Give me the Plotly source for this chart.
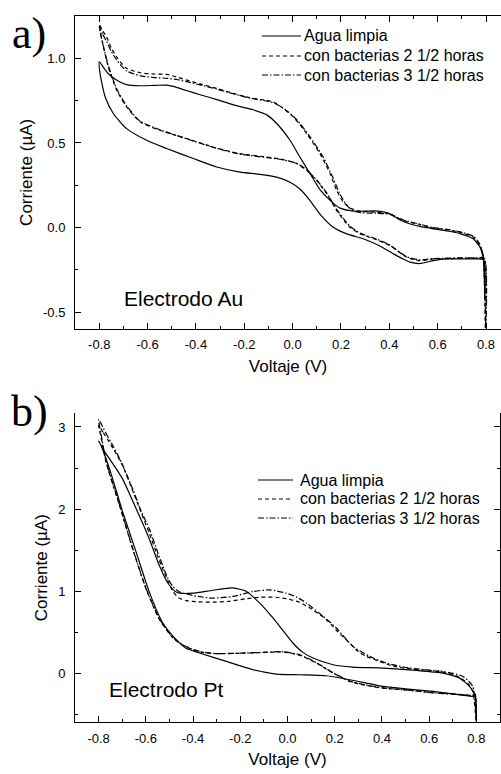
import plotly.graph_objects as go

# ---------------- data ----------------
series_names = ["Agua limpia", "con bacterias 2 1/2 horas", "con bacterias 3 1/2 horas"]

# Panel a) Electrodo Au
V_au_agua = [-0.800, -0.775, -0.756, -0.72, -0.687, -0.632, -0.57, -0.521, -0.494, -0.44, -0.383, -0.31, -0.245, -0.163,
             -0.107, -0.066, -0.011, 0.030, 0.072, 0.113, 0.155, 0.196, 0.251, 0.30, 0.334, 0.37, 0.403, 0.444, 0.49,
             0.527, 0.582, 0.64, 0.692, 0.747, 0.775, 0.789, 0.795, 0.790,
             0.75, 0.72, 0.637, 0.582, 0.527, 0.485, 0.45, 0.417, 0.361, 0.30, 0.279, 0.224, 0.168, 0.113, 0.072,
             0.030, -0.011, -0.066, -0.135, -0.218, -0.314, -0.411, -0.521, -0.604, -0.687, -0.742, -0.776, -0.797, -0.800]
I_au_agua = [0.98, 0.93, 0.90, 0.865, 0.845, 0.838, 0.840, 0.842, 0.834, 0.81, 0.785, 0.755, 0.725, 0.696,
             0.666, 0.615, 0.516, 0.417, 0.319, 0.225, 0.161, 0.115, 0.098, 0.097, 0.099, 0.094, 0.081, 0.045, 0.02,
             0.007, -0.007, -0.02, -0.035, -0.066, -0.116, -0.185, -0.42, -0.19,
             -0.185, -0.185, -0.185, -0.195, -0.212, -0.204, -0.18, -0.155, -0.108, -0.07, -0.06, -0.037, 0.002, 0.08, 0.16,
             0.228, 0.268, 0.298, 0.315, 0.328, 0.358, 0.408, 0.467, 0.516, 0.585, 0.674, 0.773, 0.911, 0.98]

V_au_b25 = [-0.800, -0.785, -0.770, -0.750, -0.728, -0.705, -0.687, -0.632, -0.58, -0.521, -0.48, -0.438, -0.38, -0.314,
            -0.25, -0.177, -0.110, -0.080, -0.039, 0.003, 0.058, 0.113, 0.155, 0.182, 0.210, 0.240, 0.265, 0.30, 0.348,
            0.403, 0.458, 0.527, 0.582, 0.64, 0.692, 0.747, 0.775, 0.789, 0.797, 0.792,
            0.75, 0.72, 0.65, 0.582, 0.527, 0.472, 0.403, 0.348, 0.279, 0.237, 0.182, 0.141, 0.099, 0.058, 0.017,
            -0.039, -0.107, -0.218, -0.314, -0.438, -0.549, -0.632, -0.687, -0.728, -0.763, -0.783, -0.797, -0.800]
I_au_b25 = [1.20, 1.16, 1.128, 1.06, 1.009, 0.965, 0.941, 0.915, 0.908, 0.905, 0.89, 0.871, 0.848, 0.822,
            0.795, 0.767, 0.752, 0.743, 0.704, 0.654, 0.556, 0.437, 0.319, 0.22, 0.15, 0.115, 0.101, 0.095, 0.091,
            0.081, 0.042, 0.018, -0.003, -0.013, -0.027, -0.056, -0.106, -0.175, -0.60, -0.185,
            -0.18, -0.18, -0.183, -0.185, -0.195, -0.175, -0.106, -0.072, -0.037, 0.002, 0.101, 0.2, 0.279, 0.338, 0.378,
            0.402, 0.417, 0.437, 0.47, 0.526, 0.575, 0.625, 0.713, 0.812, 0.95, 1.069, 1.168, 1.20]

V_au_b35 = [-0.800, -0.785, -0.770, -0.750, -0.728, -0.705, -0.687, -0.632, -0.58, -0.521, -0.48, -0.438, -0.38, -0.314,
            -0.25, -0.177, -0.110, -0.075, -0.030, 0.015, 0.070, 0.125, 0.165, 0.195, 0.225, 0.25, 0.285, 0.348,
            0.403, 0.458, 0.527, 0.582, 0.64, 0.692, 0.747, 0.775, 0.789, 0.799, 0.793,
            0.75, 0.72, 0.65, 0.582, 0.527, 0.472, 0.403, 0.348, 0.279, 0.237, 0.182, 0.141, 0.099, 0.058, 0.017,
            -0.039, -0.107, -0.218, -0.314, -0.438, -0.549, -0.632, -0.687, -0.728, -0.763, -0.783, -0.797, -0.800]
I_au_b35 = [1.19, 1.14, 1.10, 1.04, 0.99, 0.95, 0.925, 0.897, 0.888, 0.882, 0.875, 0.862, 0.842, 0.818,
            0.792, 0.765, 0.748, 0.735, 0.697, 0.64, 0.54, 0.42, 0.30, 0.2, 0.13, 0.10, 0.088, 0.085,
            0.078, 0.045, 0.02, 0.0, -0.01, -0.025, -0.05, -0.10, -0.17, -0.60, -0.18,
            -0.18, -0.178, -0.18, -0.183, -0.19, -0.172, -0.104, -0.068, -0.032, 0.008, 0.108, 0.205, 0.282, 0.34, 0.38,
            0.40, 0.414, 0.434, 0.468, 0.524, 0.578, 0.63, 0.72, 0.82, 0.96, 1.07, 1.16, 1.19]

# Panel b) Electrodo Pt
V_pt_agua = [-0.800, -0.775, -0.753, -0.725, -0.697, -0.668, -0.640, -0.612, -0.584, -0.542, -0.506, -0.475, -0.457,
             -0.40, -0.316, -0.231, -0.175, -0.140, -0.104, -0.068, -0.033, 0.023, 0.065, 0.108, 0.193, 0.277, 0.404,
             0.545, 0.658, 0.729, 0.771, 0.793, 0.800, 0.795,
             0.785, 0.70, 0.616, 0.50, 0.404, 0.33, 0.263, 0.164, 0.051, -0.047, -0.146, -0.259, -0.372, -0.43,
             -0.471, -0.528, -0.584, -0.640, -0.697, -0.753, -0.789, -0.800]
I_pt_agua = [2.83, 2.70, 2.61, 2.49, 2.36, 2.18, 2.0, 1.82, 1.63, 1.31, 1.10, 1.0, 0.98,
             0.98, 1.015, 1.043, 1.003, 0.92, 0.82, 0.70, 0.577, 0.374, 0.26, 0.191, 0.110, 0.081, 0.069,
             0.041, 0.008, -0.053, -0.154, -0.256, -0.58, -0.27,
             -0.276, -0.245, -0.215, -0.183, -0.154, -0.11, -0.073, -0.024, -0.012, -0.004, 0.049, 0.150, 0.252, 0.31,
             0.414, 0.617, 0.983, 1.47, 1.957, 2.485, 2.77, 2.83]

V_pt_b25 = [-0.800, -0.780, -0.760, -0.739, -0.70, -0.655, -0.62, -0.584, -0.55, -0.528, -0.505, -0.485, -0.46,
            -0.429, -0.38, -0.316, -0.25, -0.18, -0.12, -0.05, 0.0, 0.05, 0.10, 0.164, 0.21, 0.249, 0.30, 0.334,
            0.39, 0.45, 0.52, 0.60, 0.658, 0.72, 0.765, 0.785, 0.80, 0.795,
            0.785, 0.70, 0.616, 0.50, 0.404, 0.33, 0.263, 0.225, 0.193, 0.122, 0.051, -0.019, -0.089, -0.189, -0.302,
            -0.36, -0.40, -0.445, -0.485, -0.542, -0.598, -0.655, -0.711, -0.768, -0.790, -0.800]
I_pt_b25 = [3.02, 2.93, 2.84, 2.74, 2.54, 2.22, 1.96, 1.70, 1.43, 1.27, 1.12, 1.0, 0.92,
            0.89, 0.875, 0.87, 0.88, 0.91, 0.93, 0.93, 0.91, 0.87, 0.79, 0.66, 0.52, 0.414, 0.27, 0.211,
            0.15, 0.09, 0.06, 0.04, 0.02, -0.03, -0.12, -0.22, -0.60, -0.25,
            -0.26, -0.245, -0.23, -0.195, -0.175, -0.14, -0.093, -0.04, 0.008, 0.13, 0.225, 0.265, 0.26, 0.25, 0.244,
            0.26, 0.29, 0.35, 0.434, 0.658, 1.023, 1.51, 2.04, 2.566, 2.88, 3.02]

V_pt_b35 = [-0.800, -0.770, -0.739, -0.70, -0.655, -0.62, -0.584, -0.55, -0.528, -0.505, -0.485, -0.46, -0.429,
            -0.38, -0.316, -0.231, -0.146, -0.076, -0.005, 0.04, 0.080, 0.150, 0.207, 0.277, 0.348, 0.418, 0.517,
            0.60, 0.658, 0.743, 0.785, 0.80, 0.795,
            0.785, 0.70, 0.616, 0.50, 0.404, 0.33, 0.263, 0.225, 0.193, 0.122, 0.051, -0.019, -0.089, -0.189, -0.302,
            -0.36, -0.40, -0.445, -0.485, -0.542, -0.598, -0.655, -0.711, -0.768, -0.790, -0.800]
I_pt_b35 = [3.09, 2.93, 2.77, 2.55, 2.24, 1.98, 1.75, 1.48, 1.31, 1.15, 1.06, 1.0, 0.97,
            0.94, 0.92, 0.94, 1.0, 1.02, 0.98, 0.93, 0.86, 0.70, 0.556, 0.333, 0.211, 0.13, 0.069,
            0.045, 0.028, -0.032, -0.154, -0.60, -0.25,
            -0.262, -0.248, -0.232, -0.197, -0.172, -0.135, -0.088, -0.035, 0.012, 0.135, 0.232, 0.27, 0.262, 0.252, 0.246,
            0.265, 0.295, 0.355, 0.44, 0.665, 1.03, 1.52, 2.05, 2.58, 2.92, 3.09]

x_tickvals = [-0.8, -0.6, -0.4, -0.2, 0.0, 0.2, 0.4, 0.6, 0.8]
x_ticktext = ["-0.8", "-0.6", "-0.4", "-0.2", "0.0", "0.2", "0.4", "0.6", "0.8"]
ya_tickvals = [-0.5, 0.0, 0.5, 1.0]
ya_ticktext = ["-0.5", "0.0", "0.5", "1.0"]
yb_tickvals = [0, 1, 2, 3]
yb_ticktext = ["0", "1", "2", "3"]

# ---------------- styles / layout ----------------
dashes = ["solid", "4px,3px", "6px,2px,1.5px,2px"]
LW = 1.2
SANS = "Liberation Sans, Arial, sans-serif"
SERIF = "Liberation Serif, Times New Roman, serif"

W, H = 501, 774
ML, MR, MT, MB = 75, 0, 16, 51
PW, PH = W - ML - MR, H - MT - MB


def px_x(p):
    return (p - ML) / PW


def px_y(p):
    return (H - MB - p) / PH


def clamp(v):
    return min(1.0, max(0.0, v))


fig = go.Figure()
panel_a = [(V_au_agua, I_au_agua), (V_au_b25, I_au_b25), (V_au_b35, I_au_b35)]
panel_b = [(V_pt_agua, I_pt_agua), (V_pt_b25, I_pt_b25), (V_pt_b35, I_pt_b35)]
for k, (v, i) in enumerate(panel_a):
    fig.add_trace(go.Scatter(x=v, y=i, mode="lines", name=series_names[k], xaxis="x", yaxis="y",
                             showlegend=False,
                             line=dict(color="black", width=LW, dash=dashes[k], shape="spline", smoothing=0.6)))
for k, (v, i) in enumerate(panel_b):
    fig.add_trace(go.Scatter(x=v, y=i, mode="lines", name=series_names[k], xaxis="x2", yaxis="y2",
                             showlegend=False,
                             line=dict(color="black", width=LW, dash=dashes[k], shape="spline", smoothing=0.6)))

common_x = dict(tickmode="array", tickvals=x_tickvals, ticktext=x_ticktext, ticks="inside", ticklen=6,
                tickwidth=1, tickcolor="black", showline=True, linecolor="black", linewidth=1,
                showgrid=False, zeroline=False, automargin=False, ticklabelstandoff=4,
                tickfont=dict(family=SANS, size=13, color="black"),
                minor=dict(dtick=0.1, ticks="inside", ticklen=3, tickcolor="black", showgrid=False),
                title=dict(text="Voltaje (V)", font=dict(family=SANS, size=17, color="black"), standoff=8))
common_y = dict(tickmode="array", ticks="inside", ticklen=6, tickwidth=1, tickcolor="black",
                showline=True, linecolor="black", linewidth=1, showgrid=False, zeroline=False,
                automargin=False, tickfont=dict(family=SANS, size=13, color="black"), ticklabelstandoff=6,
                title=dict(text="Corriente (\u00b5A)", font=dict(family=SANS, size=17, color="black"), standoff=6))

fig.update_layout(
    width=W, height=H, margin=dict(l=ML, r=MR, t=MT, b=MB, autoexpand=False),
    paper_bgcolor="white", plot_bgcolor="white", showlegend=False,
    xaxis=dict(common_x, domain=[0.0, 1.0], range=[-0.9005, 0.862], anchor="y", mirror="ticks"),
    yaxis=dict(common_y, domain=[clamp(px_y(328.7)), clamp(px_y(16))], range=[-0.597, 1.25], anchor="x",
               tickvals=ya_tickvals, ticktext=ya_ticktext,
               minor=dict(dtick=0.25, ticks="inside", ticklen=3, tickcolor="black", showgrid=False)),
    xaxis2=dict(common_x, domain=[0.0, clamp(px_x(500))], range=[-0.9, 0.9], anchor="y2"),
    yaxis2=dict(common_y, domain=[clamp(px_y(722.3)), clamp(px_y(413))], range=[-0.59, 3.17], anchor="x2",
                mirror="ticks", tickvals=yb_tickvals, ticktext=yb_ticktext,
                minor=dict(dtick=0.5, ticks="inside", ticklen=3, tickcolor="black", showgrid=False)),
)

# ---- legends (drawn as line samples + labels, one per panel) ----
legend_rows = {"a": ([36, 56, 75], 262, 301, 302), "b": ([480, 499, 518], 258, 293, 298)}
for key, (rows, x0, x1, xt) in legend_rows.items():
    for k, yy in enumerate(rows):
        fig.add_shape(type="line", xref="paper", yref="paper", x0=px_x(x0), x1=px_x(x1),
                      y0=px_y(yy), y1=px_y(yy), line=dict(color="black", width=LW, dash=dashes[k]))
        fig.add_annotation(text=series_names[k], xref="paper", yref="paper", x=px_x(xt), y=px_y(yy),
                           xanchor="left", yanchor="middle", showarrow=False,
                           font=dict(family=SANS, size=16, color="black"))

labels = [("a)", 29, 33, SERIF, 44), ("b)", 29, 411, SERIF, 44),
          ("Electrodo Au", 183, 298, SANS, 21), ("Electrodo Pt", 166, 689, SANS, 21)]
for txt, lx, ly, fam, fs in labels:
    fig.add_annotation(text=txt, x=px_x(lx), y=px_y(ly), xref="paper", yref="paper", showarrow=False,
                       xanchor="center", yanchor="middle", font=dict(family=fam, size=fs, color="black"))

fig.write_html("out.html", config={"displayModeBar": False},
               post_script="document.body.style.margin='0';document.body.style.padding='0';"
                           "document.documentElement.style.margin='0';")
